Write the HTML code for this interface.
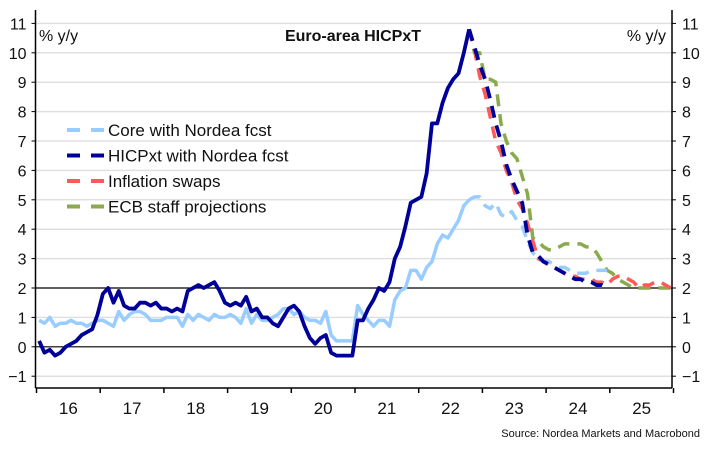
<!DOCTYPE html>
<html><head><meta charset="utf-8"><style>
body{margin:0;background:#fff;}
svg text{font-family:"Liberation Sans",sans-serif;fill:#111;}
</style></head><body>
<svg id="c" width="709" height="448" viewBox="0 0 709 448"></svg>
<script>
const yTicks=[-1,0,1,2,3,4,5,6,7,8,9,10,11];
const yearLabels=["16","17","18","19","20","21","22","23","24","25"];
// monthly from Jan 2016
const hicp=[0.2,-0.2,-0.1,-0.3,-0.2,0.0,0.1,0.2,0.4,0.5,0.6,1.1,
1.8,2.0,1.5,1.9,1.4,1.3,1.3,1.5,1.5,1.4,1.5,1.3,
1.3,1.2,1.3,1.2,1.9,2.0,2.1,2.0,2.1,2.2,1.9,1.5,
1.4,1.5,1.4,1.7,1.2,1.3,1.0,1.0,0.8,0.7,1.0,1.3,
1.4,1.2,0.7,0.3,0.1,0.3,0.4,-0.2,-0.3,-0.3,-0.3,-0.3,
0.9,0.9,1.3,1.6,2.0,1.9,2.2,3.0,3.4,4.1,4.9,5.0,
5.1,5.9,7.6,7.6,8.3,8.8,9.1,9.3,10.0,10.8];
const hicpFcst=[10.8,10.2,9.6,9.1,8.4,7.6,7.0,6.2,5.7,5.3,4.9,3.8,3.2,3.1,2.9,2.8,2.7,2.6,2.5,2.4,2.3,2.3,2.2,2.2,2.1,2.1,2.0];
const core=[0.9,0.8,1.0,0.7,0.8,0.8,0.9,0.8,0.8,0.7,0.8,0.9,
0.9,0.8,0.7,1.2,0.9,1.1,1.2,1.2,1.1,0.9,0.9,0.9,
1.0,1.0,1.0,0.7,1.1,0.9,1.1,1.0,0.9,1.1,1.0,1.0,
1.1,1.0,0.8,1.3,0.8,1.1,0.9,0.9,1.0,1.1,1.3,1.3,
1.1,1.2,1.0,0.9,0.9,0.8,1.2,0.4,0.2,0.2,0.2,0.2,
1.4,1.1,0.9,0.7,0.9,0.9,0.7,1.6,1.9,2.0,2.6,2.6,
2.3,2.7,2.9,3.5,3.8,3.7,4.0,4.3,4.8,5.0];
const coreFcst=[5.0,5.1,5.1,4.8,4.7,4.9,4.5,4.4,4.6,4.3,4.1,3.6,3.2,3.0,2.9,2.9,2.8,2.7,2.7,2.6,2.5,2.5,2.5,2.6,2.6,2.6,2.6];
const swaps=[10.8,10.1,9.2,8.6,7.8,7.0,6.6,6.0,5.6,5.0,4.7,4.2,3.6,3.0,2.9,2.8,2.7,2.6,2.5,2.4,2.4,2.3,2.3,2.3,2.2,2.2,2.1,2.3,2.4,2.4,2.3,2.2,2.0,2.1,2.1,2.2,2.2,2.1,2.0];
const ecb=[10.8,10.0,10.0,9.1,9.1,9.0,7.6,7.0,6.6,6.4,5.8,5.2,3.7,3.6,3.4,3.3,3.3,3.4,3.5,3.5,3.5,3.5,3.4,3.4,3.2,2.9,2.6,2.5,2.3,2.2,2.1,2.0,2.0,2.0,2.0,2.0,2.0,2.0,2.0];
const fcstStart=81; // Oct 2022 index

const NS="http://www.w3.org/2000/svg",svg=document.getElementById('c');
const X0=36.5,YW=63.7,L=35.5,R=672;
const x=i=>X0+(i+0.5)*YW/12;
const y=v=>288-(v-2)*29.4;
function el(t,a,p){const e=document.createElementNS(NS,t);for(const k in a)e.setAttribute(k,a[k]);(p||svg).appendChild(e);return e;}
function txt(s,a){const e=el('text',a);e.textContent=s;return e;}
yTicks.forEach(v=>{
 const g=el('line',{x1:L,x2:R,y1:y(v),y2:y(v),stroke:(v===0||v===2)?'#000':'#e0e0e0','stroke-width':(v===0||v===2)?1.2:1.5});
 
 el('line',{x1:L-4,x2:L,y1:y(v),y2:y(v),stroke:'#000'});
 el('line',{x1:R,x2:R+4,y1:y(v),y2:y(v),stroke:'#000'});
 const a=txt(String(v).replace('-','\u2212'),{x:L-9,y:y(v)+6,'text-anchor':'end','font-size':16});
 
 const b=txt(String(v).replace('-','\u2212'),{x:R+10,y:y(v)+6,'font-size':16});
 
});
el('line',{x1:L,x2:L,y1:10,y2:388,stroke:'#000','stroke-width':1.5});
el('line',{x1:R,x2:R,y1:10,y2:388,stroke:'#000','stroke-width':1.5});
el('line',{x1:L,x2:R,y1:388,y2:388,stroke:'#000','stroke-width':1.5});
for(let k=0;k<=yearLabels.length;k++){const xx=X0+k*YW;el('line',{x1:xx,x2:xx,y1:388,y2:393,stroke:'#000','stroke-width':1.5});}
yearLabels.forEach((s,k)=>{const t=txt(s,{x:X0+(k+0.5)*YW,y:414,'text-anchor':'middle','font-size':17});
 });
function line(arr,start,col,w,dash,name){
 const p=el('polyline',{points:arr.map((v,i)=>x(start+i)+','+y(v)).join(' '),fill:'none',stroke:col,'stroke-width':w,'stroke-linejoin':'round','stroke-dasharray':dash||'none'});
 }
line(core,0,'#99ccff',3.5,null,'core-line');
line(ecb,fcstStart,'#8aaa4e',3.5,'12,8','ecb-projections-line');
line(swaps,fcstStart,'#ff5a5a',3.5,'12,8','inflation-swaps-line');
line(coreFcst,fcstStart,'#99ccff',3.5,'12,8','core-forecast-line');
line(hicp,0,'#000099',3.8,null,'hicpxt-line');
line(hicpFcst,fcstStart,'#000099',3.8,'12,8','hicpxt-forecast-line');
const lg=[['Core with Nordea fcst','#99ccff'],['HICPxt with Nordea fcst','#000099'],['Inflation swaps','#ff5a5a'],['ECB staff projections','#8aaa4e']];
lg.forEach((d,i)=>{const yy=130+i*25.5;
 const l=el('line',{x1:67,x2:104,y1:yy,y2:yy,stroke:d[1],'stroke-width':4,'stroke-dasharray':'13,11'});
 
 const t=txt(d[0],{x:108,y:yy+6,'font-size':17});
 });
const ti=txt('Euro-area HICPxT',{x:353,y:41,'text-anchor':'middle','font-size':16,'font-weight':'bold'});

const u1=txt('% y/y',{x:39,y:41,'font-size':16});
const u2=txt('% y/y',{x:666,y:41,'font-size':16,'text-anchor':'end'});
const so=txt('Source: Nordea Markets and Macrobond',{x:700,y:437,'font-size':11,'text-anchor':'end'});

</script>
</body></html>
